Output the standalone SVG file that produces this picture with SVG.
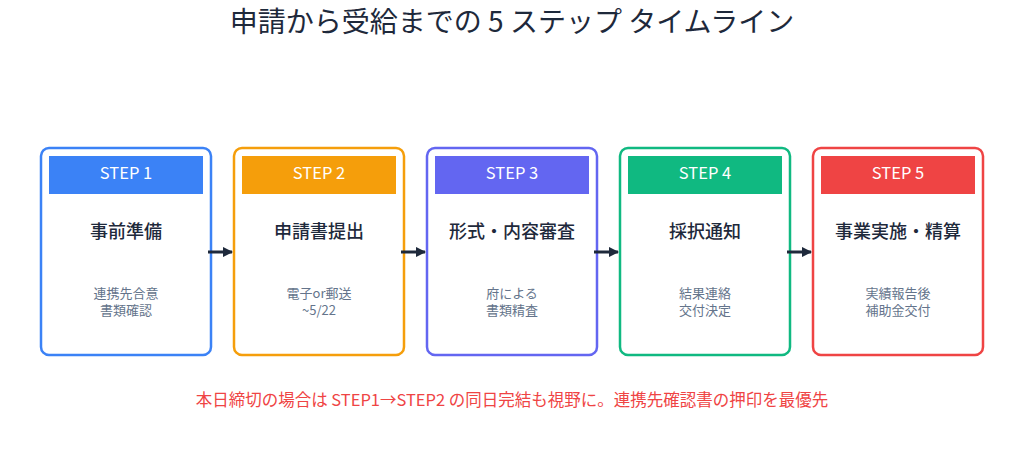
<svg xmlns="http://www.w3.org/2000/svg" width="1024" height="450" viewBox="0 0 1024 450">
<style>
text{font-family:"Noto Sans CJK JP","Noto Sans",sans-serif;text-anchor:middle}
.title{font-size:28px;fill:#1e293b}
.box{fill:#ffffff;stroke-width:2.5}
.step{font-size:16.5px;fill:#ffffff}
.name{font-size:18px;font-weight:500;fill:#1e293b}
.sub{font-size:13px;fill:#64748b}
.note{font-size:16.5px;fill:#ef4444}
.conn{stroke:#1e293b;stroke-width:3;fill:none}
</style>
<defs>
<marker id="ah" viewBox="0 0 10 10" refX="9" refY="5" markerWidth="3.5" markerHeight="3.5" orient="auto" markerUnits="strokeWidth">
<path d="M0,0 L10,5 L0,10 z" fill="#1e293b"/>
</marker>
</defs>
<rect width="1024" height="450" fill="#ffffff"/>
<text class="title" x="512" y="32">申請から受給までの 5 ステップ タイムライン</text>

<g id="node1">
<rect class="box" x="41" y="148" width="170" height="207" rx="8" stroke="#3b82f6"/>
<rect x="49" y="156" width="154" height="38" fill="#3b82f6"/>
<text class="step" x="126" y="179">STEP 1</text>
<text class="name" x="126" y="238">事前準備</text>
<text class="sub" x="126" y="298">連携先合意</text>
<text class="sub" x="126" y="315">書類確認</text>
</g>
<g id="node2">
<rect class="box" x="234" y="148" width="170" height="207" rx="8" stroke="#f59e0b"/>
<rect x="242" y="156" width="154" height="38" fill="#f59e0b"/>
<text class="step" x="319" y="179">STEP 2</text>
<text class="name" x="319" y="238">申請書提出</text>
<text class="sub" x="319" y="298">電子or郵送</text>
<text class="sub" x="319" y="315">~5/22</text>
</g>
<g id="node3">
<rect class="box" x="427" y="148" width="170" height="207" rx="8" stroke="#6366f1"/>
<rect x="435" y="156" width="154" height="38" fill="#6366f1"/>
<text class="step" x="512" y="179">STEP 3</text>
<text class="name" x="512" y="238">形式・内容審査</text>
<text class="sub" x="512" y="298">府による</text>
<text class="sub" x="512" y="315">書類精査</text>
</g>
<g id="node4">
<rect class="box" x="620" y="148" width="170" height="207" rx="8" stroke="#10b981"/>
<rect x="628" y="156" width="154" height="38" fill="#10b981"/>
<text class="step" x="705" y="179">STEP 4</text>
<text class="name" x="705" y="238">採択通知</text>
<text class="sub" x="705" y="298">結果連絡</text>
<text class="sub" x="705" y="315">交付決定</text>
</g>
<g id="node5">
<rect class="box" x="813" y="148" width="170" height="207" rx="8" stroke="#ef4444"/>
<rect x="821" y="156" width="154" height="38" fill="#ef4444"/>
<text class="step" x="898" y="179">STEP 5</text>
<text class="name" x="898" y="238">事業実施・精算</text>
<text class="sub" x="898" y="298">実績報告後</text>
<text class="sub" x="898" y="315">補助金交付</text>
</g>

<g id="connectors">
<line class="conn" x1="208" y1="252" x2="232" y2="252" marker-end="url(#ah)"/>
<line class="conn" x1="401" y1="252" x2="425" y2="252" marker-end="url(#ah)"/>
<line class="conn" x1="594" y1="252" x2="618" y2="252" marker-end="url(#ah)"/>
<line class="conn" x1="787" y1="252" x2="811" y2="252" marker-end="url(#ah)"/>
</g>

<text class="note" x="512" y="406">本日締切の場合は STEP1→STEP2 の同日完結も視野に。連携先確認書の押印を最優先</text>
</svg>
